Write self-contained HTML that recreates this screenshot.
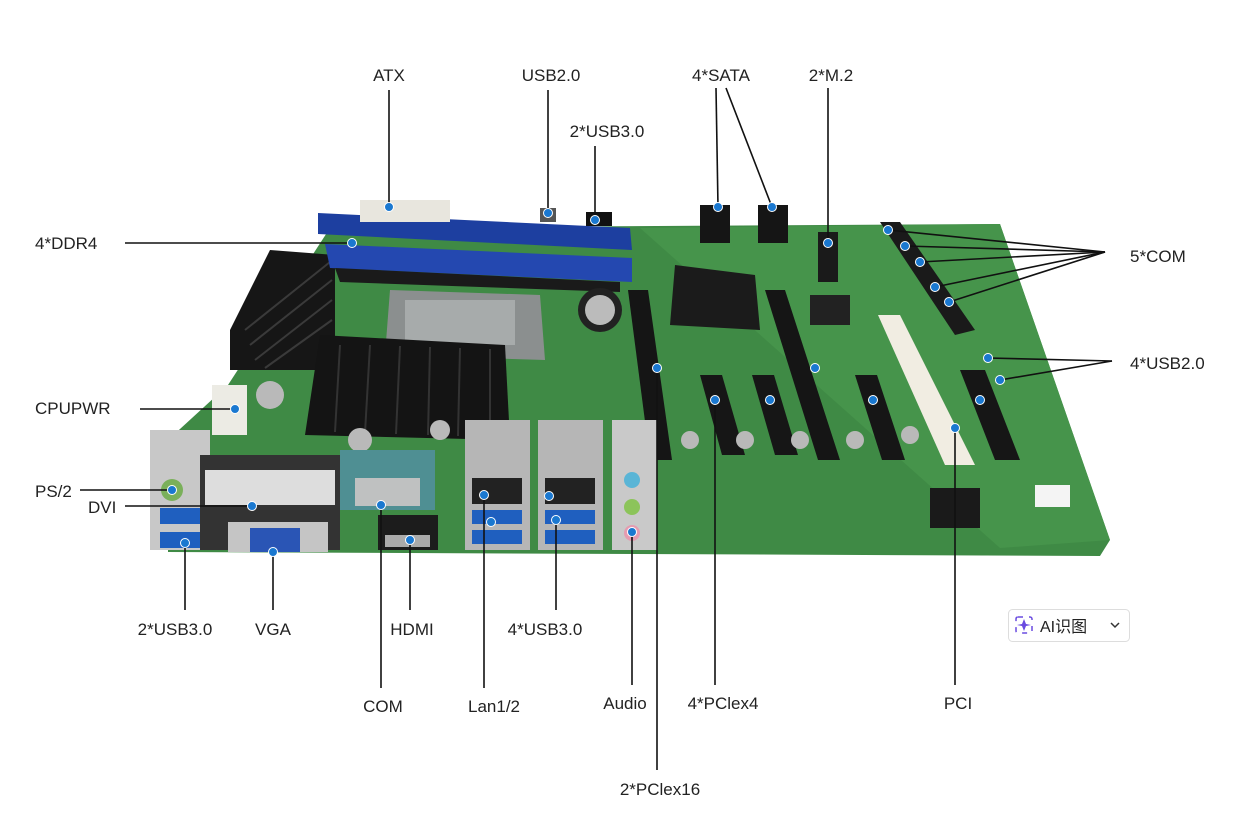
<!DOCTYPE html>
<html><head><meta charset="utf-8"><style>
html,body{margin:0;padding:0;background:#fff;}
svg{display:block}
text{font-family:"Liberation Sans","Noto Sans CJK SC",sans-serif;font-size:17px;fill:#222;}
.ln{stroke:#111;stroke-width:1.6;fill:none}
.d{fill:#1a78d0;stroke:#fff;stroke-width:1}
</style></head><body>
<svg width="1251" height="825" viewBox="0 0 1251 825" xmlns="http://www.w3.org/2000/svg">
<rect width="1251" height="825" fill="#fff"/>
<!-- board -->
<polygon points="330,228 1000,224 1110,540 1100,556 168,552 168,440 228,385" fill="#3f8a45"/>
<polygon points="640,228 1000,224 1110,540 1000,548" fill="#46944b"/>
<!-- left heatsink -->
<polygon points="270,250 335,255 335,370 230,370 230,330" fill="#161616"/>
<g stroke="#3a3a3a" stroke-width="2"><line x1="245" y1="330" x2="330" y2="262"/><line x1="250" y1="345" x2="332" y2="280"/><line x1="255" y1="360" x2="332" y2="300"/><line x1="265" y1="368" x2="332" y2="320"/></g>
<!-- DDR slots -->
<polygon points="318,213 630,228 632,250 318,234" fill="#1d3fa0"/>
<polygon points="325,244 632,258 632,282 330,268" fill="#2448b0"/>
<polygon points="335,268 620,282 620,292 340,282" fill="#1a1a1a"/>
<!-- ATX -->
<rect x="360" y="200" width="90" height="22" fill="#e8e6de"/>
<rect x="540" y="208" width="16" height="14" fill="#555"/>
<rect x="586" y="212" width="26" height="14" fill="#111"/>
<!-- CPU socket -->
<polygon points="390,290 540,295 545,360 385,355" fill="#8b8f8f"/>
<rect x="405" y="300" width="110" height="45" fill="#a7abab"/>
<!-- CPU heatsink -->
<polygon points="320,335 505,345 510,440 305,435" fill="#141414"/>
<g stroke="#333" stroke-width="2"><line x1="340" y1="345" x2="335" y2="432"/><line x1="370" y1="345" x2="365" y2="433"/><line x1="400" y1="346" x2="396" y2="434"/><line x1="430" y1="347" x2="428" y2="435"/><line x1="460" y1="348" x2="458" y2="436"/><line x1="490" y1="349" x2="490" y2="437"/></g>
<circle cx="600" cy="310" r="22" fill="#222"/><circle cx="600" cy="310" r="15" fill="#bbb"/>
<!-- SATA -->
<rect x="700" y="205" width="30" height="38" fill="#151515"/>
<rect x="758" y="205" width="30" height="38" fill="#151515"/>
<rect x="818" y="232" width="20" height="50" fill="#1a1a1a"/>
<!-- chipset heatsink -->
<polygon points="675,265 755,275 760,330 670,325" fill="#1b1b1b"/>
<rect x="810" y="295" width="40" height="30" fill="#222"/>
<!-- COM headers -->
<polygon points="880,222 900,222 975,330 955,335" fill="#1a1a1a"/>
<!-- PCIe x16 slots -->
<polygon points="628,290 648,290 672,460 650,460" fill="#151515"/>
<polygon points="765,290 785,290 840,460 818,460" fill="#151515"/>
<!-- PCIe x4 -->
<polygon points="700,375 722,375 745,455 722,455" fill="#161616"/>
<polygon points="752,375 774,375 798,455 775,455" fill="#161616"/>
<polygon points="855,375 877,375 905,460 882,460" fill="#161616"/>
<polygon points="960,370 985,370 1020,460 995,460" fill="#161616"/>
<!-- PCI white -->
<polygon points="878,315 900,315 975,465 945,465" fill="#f1ede2"/>
<rect x="1035" y="485" width="35" height="22" fill="#f4f4f4"/>
<rect x="930" y="488" width="50" height="40" fill="#1a1a1a"/>
<!-- capacitors -->
<g fill="#b9b9b9"><circle cx="270" cy="395" r="14"/><circle cx="360" cy="440" r="12"/><circle cx="440" cy="430" r="10"/><circle cx="690" cy="440" r="9"/><circle cx="745" cy="440" r="9"/><circle cx="800" cy="440" r="9"/><circle cx="855" cy="440" r="9"/><circle cx="910" cy="435" r="9"/></g>
<!-- CPUPWR -->
<rect x="212" y="385" width="35" height="50" fill="#ecebe4"/>
<!-- rear IO -->
<rect x="150" y="430" width="60" height="120" fill="#c8c8c8"/>
<circle cx="172" cy="490" r="11" fill="#7ab05a"/>
<rect x="160" y="508" width="50" height="16" fill="#1f5fbf"/>
<rect x="160" y="532" width="50" height="16" fill="#1f5fbf"/>
<rect x="200" y="455" width="140" height="95" fill="#333"/>
<rect x="205" y="470" width="130" height="35" fill="#ddd"/>
<rect x="228" y="522" width="100" height="30" fill="#c5c5c5"/>
<rect x="250" y="528" width="50" height="24" fill="#2a55b5"/>
<rect x="340" y="450" width="95" height="60" fill="#4f8f93"/>
<rect x="355" y="478" width="65" height="28" fill="#bfc1c1"/>
<rect x="378" y="515" width="60" height="35" fill="#1c1c1c"/>
<rect x="385" y="535" width="45" height="12" fill="#aaa"/>
<rect x="465" y="420" width="65" height="130" fill="#b6b6b6"/>
<rect x="538" y="420" width="65" height="130" fill="#b6b6b6"/>
<rect x="472" y="478" width="50" height="26" fill="#222"/><rect x="545" y="478" width="50" height="26" fill="#222"/>
<rect x="472" y="510" width="50" height="14" fill="#1f5fbf"/><rect x="545" y="510" width="50" height="14" fill="#1f5fbf"/>
<rect x="472" y="530" width="50" height="14" fill="#1f5fbf"/><rect x="545" y="530" width="50" height="14" fill="#1f5fbf"/>
<rect x="612" y="420" width="45" height="130" fill="#c9c9c9"/>
<circle cx="632" cy="480" r="8" fill="#5ab5d6"/><circle cx="632" cy="507" r="8" fill="#8cc45a"/><circle cx="632" cy="533" r="8" fill="#e59bb0"/>
<!-- leader lines -->
<g class="ln">
<line x1="389" y1="90" x2="389" y2="207"/>
<line x1="548" y1="90" x2="548" y2="213"/>
<line x1="595" y1="146" x2="595" y2="220"/>
<line x1="716" y1="88" x2="718" y2="207"/>
<line x1="726" y1="88" x2="772" y2="207"/>
<line x1="828" y1="88" x2="828" y2="243"/>
<line x1="125" y1="243" x2="352" y2="243"/>
<line x1="1105" y1="252" x2="888" y2="230"/><line x1="1105" y1="252" x2="905" y2="246"/><line x1="1105" y1="252" x2="920" y2="262"/><line x1="1105" y1="252" x2="935" y2="287"/><line x1="1105" y1="252" x2="949" y2="302"/>
<line x1="1112" y1="361" x2="988" y2="358"/><line x1="1112" y1="361" x2="1000" y2="380"/>
<line x1="140" y1="409" x2="235" y2="409"/>
<line x1="80" y1="490" x2="172" y2="490"/>
<line x1="125" y1="506" x2="252" y2="506"/>
<line x1="185" y1="543" x2="185" y2="610"/>
<line x1="273" y1="552" x2="273" y2="610"/>
<line x1="410" y1="540" x2="410" y2="610"/>
<line x1="556" y1="520" x2="556" y2="610"/>
<line x1="381" y1="505" x2="381" y2="688"/>
<line x1="484" y1="495" x2="484" y2="688"/>
<line x1="632" y1="532" x2="632" y2="685"/>
<line x1="715" y1="400" x2="715" y2="685"/>
<line x1="955" y1="428" x2="955" y2="685"/>
<line x1="657" y1="368" x2="657" y2="770"/>
</g>
<!-- dots -->
<g class="d">
<circle cx="389" cy="207" r="4.5"/><circle cx="548" cy="213" r="4.5"/><circle cx="595" cy="220" r="4.5"/>
<circle cx="718" cy="207" r="4.5"/><circle cx="772" cy="207" r="4.5"/><circle cx="828" cy="243" r="4.5"/>
<circle cx="352" cy="243" r="4.5"/>
<circle cx="888" cy="230" r="4.5"/><circle cx="905" cy="246" r="4.5"/><circle cx="920" cy="262" r="4.5"/><circle cx="935" cy="287" r="4.5"/><circle cx="949" cy="302" r="4.5"/>
<circle cx="988" cy="358" r="4.5"/><circle cx="1000" cy="380" r="4.5"/>
<circle cx="235" cy="409" r="4.5"/><circle cx="172" cy="490" r="4.5"/><circle cx="252" cy="506" r="4.5"/>
<circle cx="185" cy="543" r="4.5"/><circle cx="273" cy="552" r="4.5"/><circle cx="410" cy="540" r="4.5"/>
<circle cx="556" cy="520" r="4.5"/><circle cx="381" cy="505" r="4.5"/><circle cx="484" cy="495" r="4.5"/>
<circle cx="549" cy="496" r="4.5"/><circle cx="491" cy="522" r="4.5"/>
<circle cx="632" cy="532" r="4.5"/><circle cx="715" cy="400" r="4.5"/><circle cx="955" cy="428" r="4.5"/>
<circle cx="657" cy="368" r="4.5"/><circle cx="815" cy="368" r="4.5"/><circle cx="770" cy="400" r="4.5"/><circle cx="873" cy="400" r="4.5"/><circle cx="980" cy="400" r="4.5"/>
</g>
<!-- labels -->
<g text-anchor="middle">
<text x="389" y="81">ATX</text>
<text x="551" y="81">USB2.0</text>
<text x="607" y="137">2*USB3.0</text>
<text x="721" y="81">4*SATA</text>
<text x="831" y="81">2*M.2</text>
<text x="175" y="635">2*USB3.0</text>
<text x="273" y="635">VGA</text>
<text x="412" y="635">HDMI</text>
<text x="545" y="635">4*USB3.0</text>
<text x="383" y="712">COM</text>
<text x="494" y="712">Lan1/2</text>
<text x="625" y="709">Audio</text>
<text x="723" y="709">4*PClex4</text>
<text x="958" y="709">PCI</text>
<text x="660" y="795">2*PClex16</text>
</g>
<text x="35" y="249">4*DDR4</text>
<text x="1130" y="262">5*COM</text>
<text x="1130" y="369">4*USB2.0</text>
<text x="35" y="414">CPUPWR</text>
<text x="35" y="497">PS/2</text>
<text x="88" y="513">DVI</text>
<!-- AI button -->
<rect x="1008.5" y="609.5" width="121" height="32" rx="4" fill="#fff" stroke="#ddd"/>
<rect x="1016" y="617" width="16" height="16" rx="2" fill="none" stroke="#6a4be0" stroke-width="1.5" stroke-dasharray="5 6"/>
<path d="M1024 619 L1026 624 L1031 625 L1026 626 L1024 631 L1022 626 L1017 625 L1022 624Z" fill="#6a4be0"/>
<text x="1040" y="632" style="font-size:16px">AI识图</text>
<path d="M1111 623 L1115 627 L1119 623" fill="none" stroke="#333" stroke-width="1.5"/>
</svg>
</body></html>
